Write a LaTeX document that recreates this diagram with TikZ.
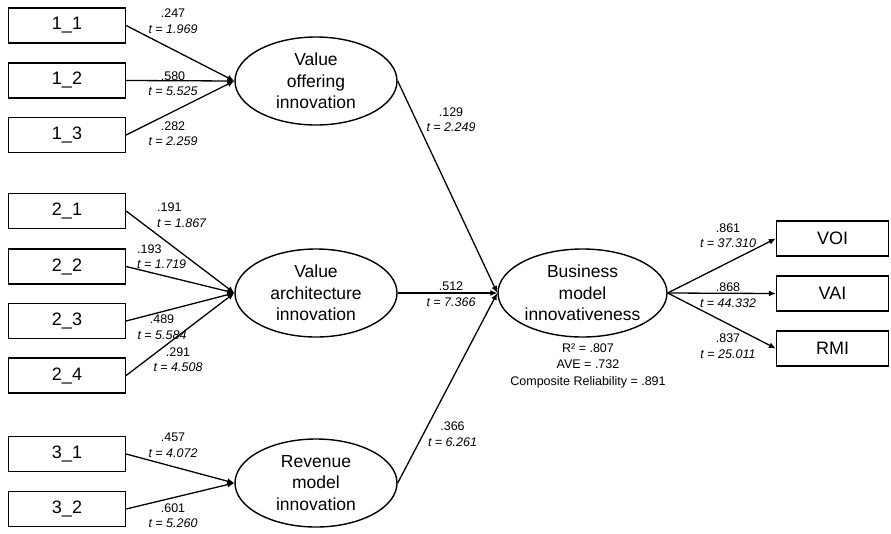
\documentclass[tikz,border=0pt]{standalone}
\usepackage{fontspec}
\setmainfont{Liberation Sans}
\usetikzlibrary{shapes.geometric,arrows.meta}
\begin{document}
\begin{tikzpicture}[x=1pt,y=-1pt,
  indicator/.style={draw,line width=1.3pt,rectangle,minimum width=117pt,minimum height=35pt,inner sep=0pt,font=\fontsize{18}{20}\selectfont},
  outbox/.style={indicator,minimum width=112pt},
  construct/.style={draw,line width=1.4pt,ellipse,minimum width=162pt,minimum height=88pt,inner sep=0pt,align=center,font=\fontsize{17.5}{21.5}\selectfont},
  path/.style={line width=1.3pt,-{Latex[length=7pt,width=6pt]}},
  coef/.style={inner sep=0pt,align=center,font=\fontsize{12.5}{15.5}\selectfont},
  stat/.style={inner sep=0pt,align=center,font=\fontsize{12.5}{16.5}\selectfont}
]
\useasboundingbox (0,0) rectangle (891,533);

% indicators of the first-order constructs
\node[indicator] (i11) at (67,25.5) {1\_1};
\node[indicator] (i12) at (67,80.5) {1\_2};
\node[indicator] (i13) at (67,135) {1\_3};
\node[indicator] (i21) at (67,211) {2\_1};
\node[indicator] (i22) at (67,266.5) {2\_2};
\node[indicator] (i23) at (67,321) {2\_3};
\node[indicator] (i24) at (67,375.5) {2\_4};
\node[indicator] (i31) at (67,454) {3\_1};
\node[indicator] (i32) at (67,509) {3\_2};

% constructs
\node[construct] (vo) at (316,81) {Value\\offering\\innovation};
\node[construct] (va) at (316,293) {Value\\architecture\\innovation};
\node[construct] (rm) at (316,483) {Revenue\\model\\innovation};
\node[construct,minimum width=169pt] (bm) at (582.5,293) {Business\\model\\innovativeness};

% second-order indicators
\node[outbox] (voi) at (832.5,238.5) {VOI};
\node[outbox] (vai) at (832.5,293.5) {VAI};
\node[outbox] (rmi) at (832.5,348.5) {RMI};

% measurement paths
\foreach \s in {i11,i12,i13} \draw[path] (\s.east) -- (vo.west);
\foreach \s in {i21,i22,i23,i24} \draw[path] (\s.east) -- (va.west);
\foreach \s in {i31,i32} \draw[path] (\s.east) -- (rm.west);

% structural paths
\draw[path] (vo.east) -- (bm.west);
\draw[path] (va.east) -- (bm.west);
\draw[path] (rm.east) -- (bm.west);
\draw[path] (bm.east) -- (voi.west);
\draw[path] (bm.east) -- (vai.west);
\draw[path] (bm.east) -- (rmi.west);

% coefficients
\node[coef] (c11) at (173,21) {.247\\\textit{t = 1.969}};
\node[coef] (c12) at (173,83.5) {.580\\\textit{t = 5.525}};
\node[coef] (c13) at (173,133.5) {.282\\\textit{t = 2.259}};
\node[coef,align=left,anchor=west] (c21) at (157,215) {.191\\\textit{t = 1.867}};
\node[coef,align=left,anchor=west] (c22) at (137,256.5) {.193\\\textit{t = 1.719}};
\node[coef] (c23) at (162,327) {.489\\\textit{t = 5.584}};
\node[coef] (c24) at (178,359.5) {.291\\\textit{t = 4.508}};
\node[coef] (c31) at (173,445.5) {.457\\\textit{t = 4.072}};
\node[coef] (c32) at (173,515.5) {.601\\\textit{t = 5.260}};
\node[coef] (cvo) at (451,119.5) {.129\\\textit{t = 2.249}};
\node[coef] (cva) at (451,294) {.512\\\textit{t = 7.366}};
\node[coef] (crm) at (452.5,434) {.366\\\textit{t = 6.261}};
\node[coef] (cvoi) at (728,235.5) {.861\\\textit{t = 37.310}};
\node[coef] (cvai) at (728,295) {.868\\\textit{t = 44.332}};
\node[coef] (crmi) at (728,346) {.837\\\textit{t = 25.011}};

% construct quality
\node[stat] (bmstat) at (588,365.5) {R² = .807\\AVE = .732\\Composite Reliability = .891};
\end{tikzpicture}
\end{document}
